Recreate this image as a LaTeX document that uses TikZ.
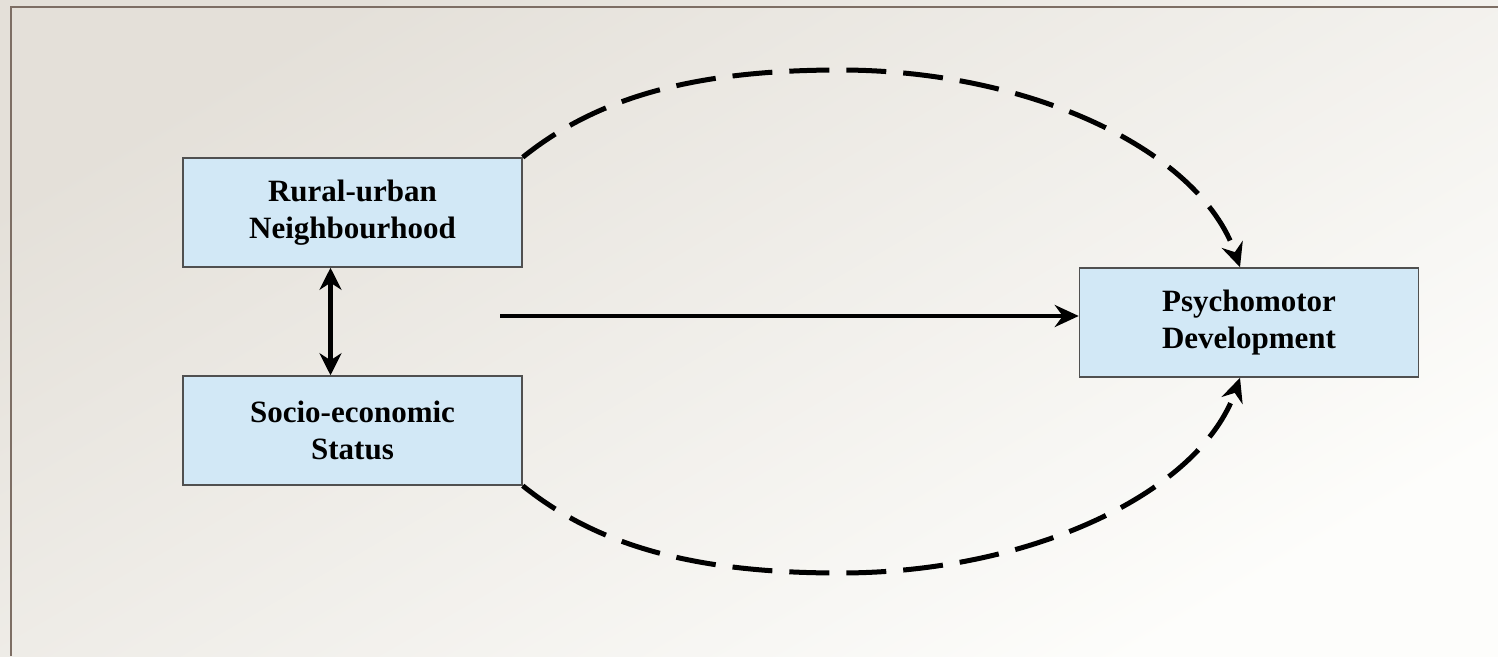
\documentclass[tikz,border=0pt]{standalone}
\usepackage{fontspec}
\setmainfont{Liberation Serif}
\usetikzlibrary{arrows.meta}
\definecolor{bgA}{RGB}{228,224,217}
\definecolor{bgB}{RGB}{253,253,251}
\definecolor{boxfill}{RGB}{210,232,246}
\definecolor{boxline}{RGB}{80,80,80}
\definecolor{framec}{RGB}{125,110,100}
\tikzset{
  varbox/.style={draw=boxline, line width=1.5pt, fill=boxfill, minimum width=339pt, minimum height=109pt, inner sep=0pt, align=center, font=\fontsize{31}{37}\selectfont\bfseries},
  tip/.style={-{Stealth[length=24pt,width=22pt,inset=8pt]}},
  solidconn/.style={line width=4.5pt, black},
  dashconn/.style={line width=5pt, black, dash pattern=on 40pt off 17pt}
}
\begin{document}
\begin{tikzpicture}[x=1pt,y=-1pt]
\useasboundingbox (0,0) rectangle (1498,656);
\shade[left color=bgA, right color=bgB, shading angle=30] (0,0) rectangle (1498,656);
\draw[framec, line width=2pt] (11,656) -- (11,7) -- (1498,7);
\node[varbox] (rural) at (352.5,212.5) {Rural-urban\\Neighbourhood};
\node[varbox] (socio) at (352.5,430.5) {Socio-economic\\Status};
\node[varbox] (psy) at (1249,322.5) {Psychomotor\\Development};
\draw[solidconn, {Stealth[length=22pt,width=22pt,inset=7pt]}-{Stealth[length=22pt,width=22pt,inset=7pt]}] ([xshift=-22pt]rural.south) -- ([xshift=-22pt]socio.north);
\coordinate (s) at (500,316);
\draw[solidconn, tip] (s) -- (s -| psy.west);
\draw[dashconn, tip] (rural.north east) .. controls (600,95) and (700,70) .. (840,70) .. controls (1030,70) and (1200,150) .. ([xshift=-9pt]psy.north);
\draw[dashconn, tip] (socio.south east) .. controls (600,548) and (700,573) .. (840,573) .. controls (1030,573) and (1200,493) .. ([xshift=-9pt]psy.south);
\end{tikzpicture}
\end{document}
